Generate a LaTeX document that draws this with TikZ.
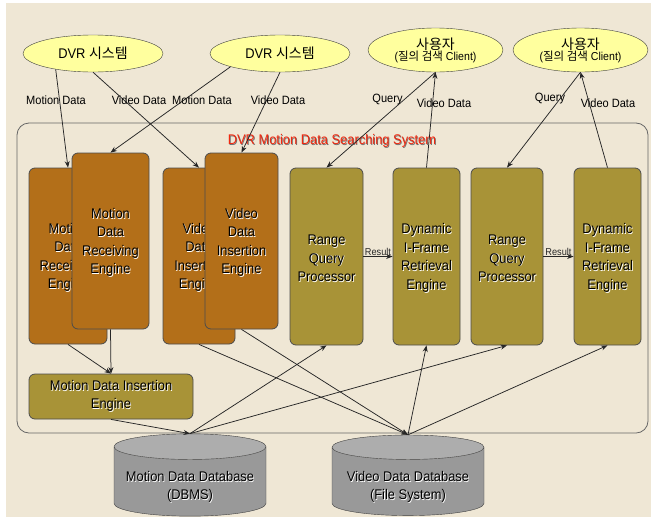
\documentclass[tikz,border=0pt]{standalone}
\usepackage{fontspec}
\setmainfont[FakeStretch=0.92]{Liberation Sans}
\newfontfamily\kr{Noto Sans CJK KR}
\usetikzlibrary{shapes.geometric,arrows.meta}

\definecolor{bgbeige}{HTML}{EFE7D5}
\definecolor{usryellow}{HTML}{FFFF9E}
\definecolor{engorange}{HTML}{B36F19}
\definecolor{engolive}{HTML}{A89337}
\definecolor{dbgray}{HTML}{999999}
\definecolor{dbtop}{HTML}{ADADAD}
\definecolor{titlered}{HTML}{F0280F}

% text with a small offset shadow
\newcommand\shd[2][white]{\makebox[0pt][l]{\hspace*{0.8pt}\raisebox{-0.8pt}{\color{#1}#2}}#2}

\tikzset{
  client/.style={ellipse, draw=black!75, fill=usryellow, inner sep=0pt, align=center},
  engine/.style={rectangle, rounded corners=6pt, draw=black!70, line width=0.8pt,
    align=center, inner sep=0pt, font=\fontsize{14}{18.5}\selectfont},
  recv/.style={engine, fill=engorange},
  query/.style={engine, fill=engolive},
  flow/.style={-{Stealth[length=6.5pt,width=5pt]}, line width=0.75pt, black!85},
  lbl/.style={font=\fontsize{12}{14}\selectfont, inner sep=0pt},
  res/.style={font=\fontsize{10}{12}\selectfont, inner sep=1pt},
  dbase/.style={cylinder, shape border rotate=90, aspect=0.2, draw=black!75,
    cylinder uses custom fill, cylinder body fill=dbgray, cylinder end fill=dbtop,
    align=center, inner sep=0pt, minimum width=152pt, minimum height=67pt,
    font=\fontsize{14}{18}\selectfont}
}

\begin{document}
\begin{tikzpicture}[x=1pt,y=-1pt]
  \useasboundingbox (0,0) rectangle (655,517);
  \fill[bgbeige] (6,3) rectangle (651,517);

  % clients
  \node[client, minimum width=140pt, minimum height=37pt, font=\fontsize{14}{16}\selectfont] (e1) at (93,53.5) {DVR {\kr 시스템}};
  \node[client, minimum width=140pt, minimum height=37pt, font=\fontsize{14}{16}\selectfont] (e2) at (280,53.5) {DVR {\kr 시스템}};
  \node[client, minimum width=135pt, minimum height=44pt] (e3) at (435.5,50)
    {{\fontsize{14}{16}\selectfont\kr 사용자}\\[-1pt]{\fontsize{11.5}{14}\selectfont({\kr 질의 검색} Client)}};
  \node[client, minimum width=135pt, minimum height=44pt] (e4) at (580.5,50)
    {{\fontsize{14}{16}\selectfont\kr 사용자}\\[-1pt]{\fontsize{11.5}{14}\selectfont({\kr 질의 검색} Client)}};

  % system
  \draw[black!60, line width=0.8pt, rounded corners=12pt] (17,123) rectangle (648,433);
  \node[font=\fontsize{14}{16}\selectfont, text=titlered] (title) at (332,141) {\shd[black!55]{DVR Motion Data Searching System}};

  \node[recv, minimum width=78pt, minimum height=176pt] (mdrB) at (68,256) {\rule{0pt}{14pt}\shd{Motion}\\\shd{Data}\\\shd{Receiving}\\\shd{Engine}};
  \node[recv, minimum width=77pt, minimum height=176pt] (mdrF) at (110.5,241) {\rule{0pt}{14pt}\shd{Motion}\\\shd{Data}\\\shd{Receiving}\\\shd{Engine}};
  \node[recv, minimum width=72pt, minimum height=176pt] (vdiB) at (199,256) {\rule{0pt}{14pt}\shd{Video}\\\shd{Data}\\\shd{Insertion}\\\shd{Engine}};
  \node[recv, minimum width=73pt, minimum height=176pt] (vdiF) at (241.5,241) {\rule{0pt}{14pt}\shd{Video}\\\shd{Data}\\\shd{Insertion}\\\shd{Engine}};
  \node[query, minimum width=73pt, minimum height=177pt] (rqp1) at (326.5,256.5) {\rule{0pt}{14pt}\shd{Range}\\\shd{Query}\\\shd{Processor}};
  \node[query, minimum width=67pt, minimum height=177pt] (dif1) at (426.5,256.5) {\rule{0pt}{14pt}\shd{Dynamic}\\\shd{I-Frame}\\\shd{Retrieval}\\\shd{Engine}};
  \node[query, minimum width=72pt, minimum height=177pt] (rqp2) at (507,256.5) {\rule{0pt}{14pt}\shd{Range}\\\shd{Query}\\\shd{Processor}};
  \node[query, minimum width=67pt, minimum height=177pt] (dif2) at (607.5,256.5) {\rule{0pt}{14pt}\shd{Dynamic}\\\shd{I-Frame}\\\shd{Retrieval}\\\shd{Engine}};
  \node[query, minimum width=164pt, minimum height=45pt] (mdie) at (111,396.5) {\shd{Motion Data Insertion}\\\shd{Engine}};

  % databases
  \node[dbase] (mdb) at (190,481.5) {\rule{0pt}{22pt}\shd{Motion Data Database}\\\shd{(DBMS)}};
  \node[dbase] (vdb) at (408,481.5) {\rule{0pt}{22pt}\shd{Video Data Database}\\\shd{(File System)}};

  % flows
  \draw[flow] (e1.203) -- (mdrB.north);
  \draw[flow] (e1.south) -- (vdiB.north);
  \draw[flow] (e2.195) -- (mdrF.north);
  \draw[flow] (e2.south) -- (vdiF.north);
  \draw[flow] (e3.south) -- (rqp1.north);
  \draw[flow] (dif1.north) -- (e3.south);
  \draw[flow] (e4.south) -- (rqp2.north);
  \draw[flow] (dif2.north) -- (e4.south);
  \draw[flow] (rqp1.east) -- node[res, above] {Result} (dif1.west);
  \draw[flow] (rqp2.east) -- node[res, above] {Result} (dif2.west);
  \draw[flow] (mdrB.south) -- (mdie.north);
  \draw[flow] (mdrF.south) -- (mdie.north);
  \draw[flow] (mdie.south) -- (mdb.north);
  \draw[flow] (mdb.north) -- (rqp1.south);
  \draw[flow] (mdb.north) -- (rqp2.south);
  \draw[flow] (vdiB.south) -- (vdb.north);
  \draw[flow] (vdiF.south) -- (vdb.north);
  \draw[flow] (vdb.north) -- (dif1.south);
  \draw[flow] (vdb.north) -- (dif2.south);

  % flow labels
  \node[lbl] (l1) at (56,100) {Motion Data};
  \node[lbl] (l2) at (139,100) {Video Data};
  \node[lbl] (l3) at (202,100) {Motion Data};
  \node[lbl] (l4) at (278,100) {Video Data};
  \node[lbl] (l5) at (387.5,100) {Query};
  \node[lbl] (l6) at (444,103) {Video Data};
  \node[lbl] (l7) at (550,99) {Query};
  \node[lbl] (l8) at (608,103) {Video Data};
\end{tikzpicture}
\end{document}
